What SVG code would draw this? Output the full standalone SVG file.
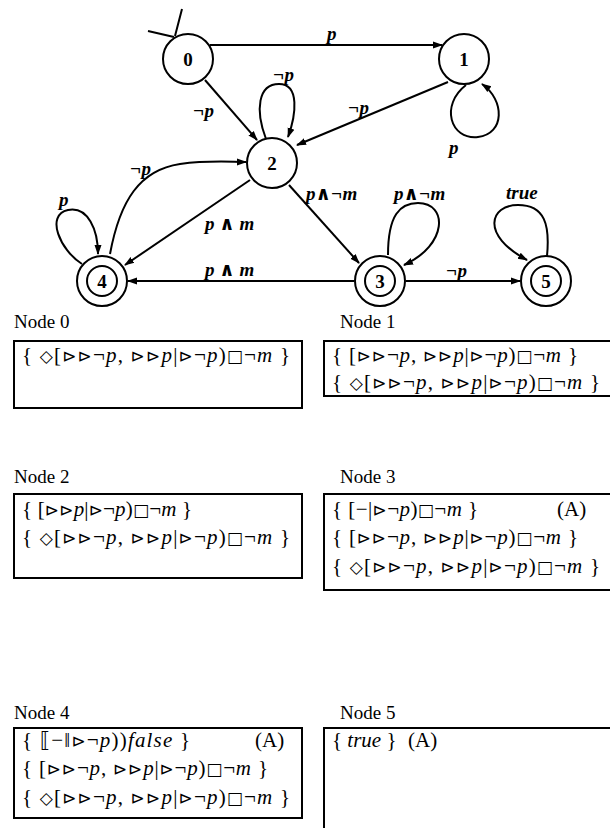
<svg xmlns="http://www.w3.org/2000/svg" width="610" height="828" viewBox="0 0 610 828">
<defs>
<marker id="ah" viewBox="0 0 10 10" refX="9" refY="5" markerWidth="10" markerHeight="10" markerUnits="userSpaceOnUse" orient="auto">
<path d="M0,1.5 L10,5 L0,8.5 Z" fill="#000"/>
</marker>
</defs>
<style>
.st{fill:#fff;stroke:#000;stroke-width:2}
.nl{font-family:"Liberation Serif","DejaVu Serif",serif;font-weight:bold;font-size:19px;text-anchor:middle}
.e{fill:none;stroke:#000;stroke-width:2;marker-end:url(#ah)}
.t{fill:none;stroke:#000;stroke-width:2}
.el{font-family:"Liberation Serif","DejaVu Serif",serif;font-weight:bold;font-style:italic;font-size:19px}
.hd{font-family:"Liberation Serif","DejaVu Serif",serif;font-size:19px}
.bx{fill:none;stroke:#000;stroke-width:2}
.f{font-family:"Liberation Serif","DejaVu Sans",serif;font-size:21px}
.i{font-style:italic}
.s{font-family:"DejaVu Sans",sans-serif;font-size:17px}
</style>
<g id="connectors">
<path class="t" d="M148,31 L174,37 M182,9 L175,36"/>
<path class="e" d="M210,45 L442,45"/>
<text class="el" x="327" y="40">p</text>
<path class="e" d="M205,80 L257,140"/>
<text class="el" x="193" y="117">¬p</text>
<path class="e" d="M266,139 C255,110 258,84 279,84 C300,84 296,115 288,137"/>
<text class="el" x="273" y="81">¬p</text>
<path class="e" d="M448,82 L297,145"/>
<text class="el" x="348" y="114">¬p</text>
<path class="e" d="M466,85 C440,105 450,140 478,137 C505,134 505,100 482,84"/>
<text class="el" x="449" y="154">p</text>
<path class="e" d="M110,254 C120,200 140,170 180,164 C210,160 230,162 246,162"/>
<text class="el" x="130" y="175">¬p</text>
<path class="e" d="M82,264 C60,250 45,215 68,210 C88,206 98,230 98,254"/>
<text class="el" x="59" y="206">p</text>
<path class="e" d="M250,180 L125,265"/>
<text class="el" x="205" y="230">p ∧ m</text>
<path class="e" d="M289,185 L359,263"/>
<text class="el" x="306" y="200">p∧¬m</text>
<path class="e" d="M388,255 C388,215 400,203 418,203 C448,203 448,245 404,265"/>
<text class="el" x="394" y="200">p∧¬m</text>
<path class="e" d="M354,281 L128,281"/>
<text class="el" x="205" y="276">p ∧ m</text>
<path class="e" d="M406,281 L520,281"/>
<text class="el" x="446" y="277">¬p</text>
<path class="e" d="M547,256 C550,225 545,205 518,205 C490,205 480,235 527,260"/>
<text class="el" x="506" y="199">true</text>
</g>
<g id="n0"><circle class="st" cx="188" cy="59" r="25"/><text class="nl" x="188" y="66">0</text></g>
<g id="n1"><circle class="st" cx="464" cy="59" r="25"/><text class="nl" x="464" y="66">1</text></g>
<g id="n2"><circle class="st" cx="272" cy="163" r="25"/><text class="nl" x="272" y="170">2</text></g>
<g id="n4"><circle class="st" cx="102" cy="281" r="25"/><circle class="st" cx="102" cy="281" r="15"/><text class="nl" x="102" y="288">4</text></g>
<g id="n3"><circle class="st" cx="380" cy="281" r="25"/><circle class="st" cx="380" cy="281" r="15"/><text class="nl" x="380" y="288">3</text></g>
<g id="n5"><circle class="st" cx="546" cy="281" r="25"/><circle class="st" cx="546" cy="281" r="15"/><text class="nl" x="546" y="288">5</text></g>

<g id="box0">
<text class="hd" x="14" y="328">Node 0</text>
<rect class="bx" x="14" y="341" width="288" height="67"/>
<text class="f" x="22" y="362" textLength="268">{ <tspan class="s">◇</tspan>[<tspan class="s">⊳⊳</tspan>¬<tspan class="i">p</tspan>, <tspan class="s">⊳⊳</tspan><tspan class="i">p</tspan>|<tspan class="s">⊳</tspan>¬<tspan class="i">p</tspan>)<tspan class="s">□</tspan>¬<tspan class="i">m</tspan> }</text>
</g>
<g id="box1">
<text class="hd" x="340" y="328">Node 1</text>
<rect class="bx" x="324" y="341" width="300" height="55"/>
<text class="f" x="332" y="362" textLength="246">{ [<tspan class="s">⊳⊳</tspan>¬<tspan class="i">p</tspan>, <tspan class="s">⊳⊳</tspan><tspan class="i">p</tspan>|<tspan class="s">⊳</tspan>¬<tspan class="i">p</tspan>)<tspan class="s">□</tspan>¬<tspan class="i">m</tspan> }</text>
<text class="f" x="332" y="389" textLength="268">{ <tspan class="s">◇</tspan>[<tspan class="s">⊳⊳</tspan>¬<tspan class="i">p</tspan>, <tspan class="s">⊳⊳</tspan><tspan class="i">p</tspan>|<tspan class="s">⊳</tspan>¬<tspan class="i">p</tspan>)<tspan class="s">□</tspan>¬<tspan class="i">m</tspan> }</text>
</g>
<g id="box2">
<text class="hd" x="14" y="483">Node 2</text>
<rect class="bx" x="14" y="494" width="288" height="84"/>
<text class="f" x="22" y="516" textLength="170">{ [<tspan class="s">⊳⊳</tspan><tspan class="i">p</tspan>|<tspan class="s">⊳</tspan>¬<tspan class="i">p</tspan>)<tspan class="s">□</tspan>¬<tspan class="i">m</tspan> }</text>
<text class="f" x="22" y="544" textLength="268">{ <tspan class="s">◇</tspan>[<tspan class="s">⊳⊳</tspan>¬<tspan class="i">p</tspan>, <tspan class="s">⊳⊳</tspan><tspan class="i">p</tspan>|<tspan class="s">⊳</tspan>¬<tspan class="i">p</tspan>)<tspan class="s">□</tspan>¬<tspan class="i">m</tspan> }</text>
</g>
<g id="box3">
<text class="hd" x="340" y="483">Node 3</text>
<rect class="bx" x="324" y="494" width="300" height="96"/>
<text class="f" x="332" y="516" textLength="146">{ [−|<tspan class="s">⊳</tspan>¬<tspan class="i">p</tspan>)<tspan class="s">□</tspan>¬<tspan class="i">m</tspan> }</text>
<text class="f" x="557" y="516">(A)</text>
<text class="f" x="332" y="544" textLength="246">{ [<tspan class="s">⊳⊳</tspan>¬<tspan class="i">p</tspan>, <tspan class="s">⊳⊳</tspan><tspan class="i">p</tspan>|<tspan class="s">⊳</tspan>¬<tspan class="i">p</tspan>)<tspan class="s">□</tspan>¬<tspan class="i">m</tspan> }</text>
<text class="f" x="332" y="573" textLength="268">{ <tspan class="s">◇</tspan>[<tspan class="s">⊳⊳</tspan>¬<tspan class="i">p</tspan>, <tspan class="s">⊳⊳</tspan><tspan class="i">p</tspan>|<tspan class="s">⊳</tspan>¬<tspan class="i">p</tspan>)<tspan class="s">□</tspan>¬<tspan class="i">m</tspan> }</text>
</g>
<g id="box4">
<text class="hd" x="14" y="719">Node 4</text>
<rect class="bx" x="14" y="728" width="288" height="90"/>
<text class="f" x="22" y="747" textLength="168">{ ⟦−‖<tspan class="s">⊳</tspan>¬<tspan class="i">p</tspan>))<tspan class="i">false</tspan> }</text>
<text class="f" x="255" y="747">(A)</text>
<text class="f" x="22" y="775" textLength="246">{ [<tspan class="s">⊳⊳</tspan>¬<tspan class="i">p</tspan>, <tspan class="s">⊳⊳</tspan><tspan class="i">p</tspan>|<tspan class="s">⊳</tspan>¬<tspan class="i">p</tspan>)<tspan class="s">□</tspan>¬<tspan class="i">m</tspan> }</text>
<text class="f" x="22" y="804" textLength="268">{ <tspan class="s">◇</tspan>[<tspan class="s">⊳⊳</tspan>¬<tspan class="i">p</tspan>, <tspan class="s">⊳⊳</tspan><tspan class="i">p</tspan>|<tspan class="s">⊳</tspan>¬<tspan class="i">p</tspan>)<tspan class="s">□</tspan>¬<tspan class="i">m</tspan> }</text>
</g>
<g id="box5">
<text class="hd" x="340" y="719">Node 5</text>
<rect class="bx" x="324" y="728" width="300" height="110"/>
<text class="f" x="332" y="747">{ <tspan class="i">true</tspan> }</text>
<text class="f" x="408" y="747">(A)</text>
</g>
</svg>
